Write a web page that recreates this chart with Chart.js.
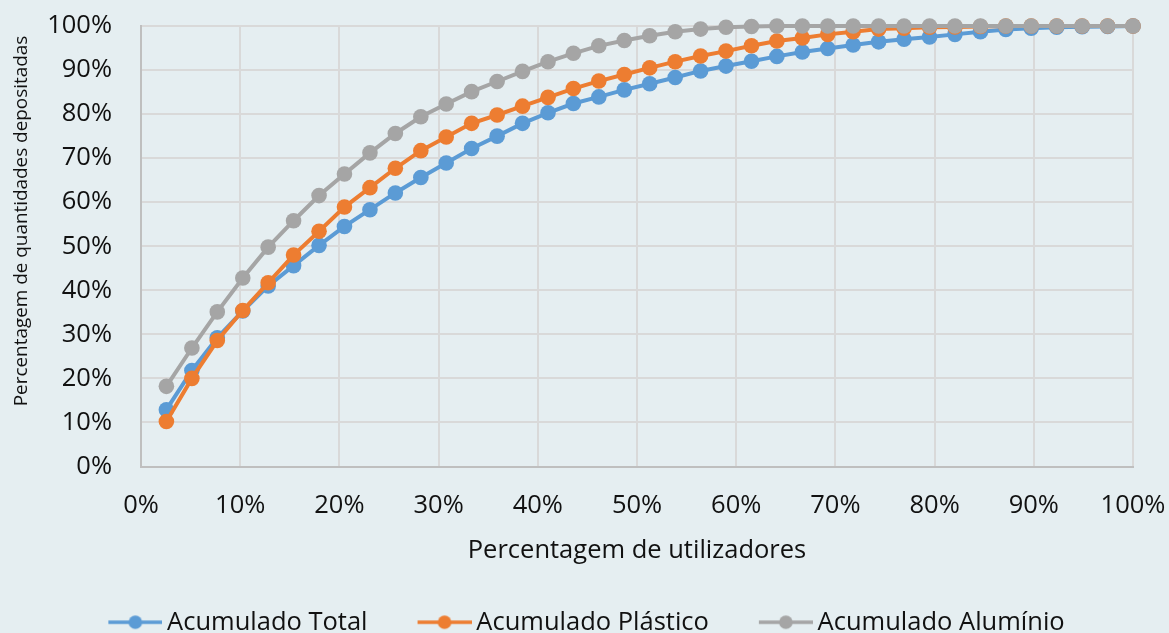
<!DOCTYPE html>
<html>
<head>
<meta charset="utf-8">
<script src="https://cdn.jsdelivr.net/npm/chart.js@4/dist/chart.umd.min.js"></script>
<style>
  html, body { margin: 0; padding: 0; background: #e5eef1; }
  #wrap { width: 1169px; height: 633px; }
  canvas { display: block; }
</style>
</head>
<body>
<div id="wrap"><canvas id="chart" width="1169" height="633"></canvas></div>
<script>
// Share of users (x, %) and cumulative share of deposited quantities (y, %)
const userShare = [2.56, 5.13, 7.69, 10.26, 12.82, 15.38, 17.95, 20.51, 23.08, 25.64,
  28.21, 30.77, 33.33, 35.90, 38.46, 41.03, 43.59, 46.15, 48.72, 51.28,
  53.85, 56.41, 58.97, 61.54, 64.10, 66.67, 69.23, 71.79, 74.36, 76.92,
  79.49, 82.05, 84.62, 87.18, 89.74, 92.31, 94.87, 97.44, 100];

const acumuladoTotal = [12.9, 21.8, 29.2, 35.3, 41.0, 45.6, 50.2, 54.5, 58.3, 62.1,
  65.6, 68.9, 72.2, 75.0, 77.9, 80.3, 82.4, 83.9, 85.5, 86.9,
  88.3, 89.8, 90.9, 92.0, 93.1, 94.1, 94.9, 95.7, 96.4, 97.0,
  97.5, 98.1, 98.7, 99.2, 99.5, 99.7, 99.85, 99.9, 100];

const acumuladoPlastico = [10.2, 20.0, 28.6, 35.4, 41.7, 48.0, 53.4, 58.9, 63.3, 67.7,
  71.7, 74.8, 77.9, 79.8, 81.8, 83.8, 85.8, 87.5, 89.0, 90.5,
  91.9, 93.2, 94.3, 95.5, 96.6, 97.3, 98.1, 98.7, 99.3, 99.5,
  99.7, 99.8, 99.9, 100, 100, 100, 100, 100, 100];

const acumuladoAluminio = [18.2, 26.9, 35.1, 42.8, 49.8, 55.8, 61.5, 66.4, 71.2, 75.6,
  79.4, 82.3, 85.1, 87.4, 89.7, 91.9, 93.8, 95.5, 96.7, 97.8,
  98.7, 99.3, 99.7, 99.9, 100, 100, 100, 100, 100, 100,
  100, 100, 100, 100, 100, 100, 100, 100, 100];

const seriesNames = ['Acumulado Total', 'Acumulado Plástico', 'Acumulado Alumínio'];
const seriesColors = ['#5b9bd5', '#ed7d31', '#a5a5a5'];
const axisTicks = [0, 10, 20, 30, 40, 50, 60, 70, 80, 90, 100];
const xTitle = 'Percentagem de utilizadores';
const yTitle = 'Percentagem de quantidades depositadas';

const FONT = '"Open Sans", "Noto Sans", sans-serif';
const FONT_SIZE = 25.5;
const TEXT = '#111111';

function toPoints(ys) {
  return ys.map((y, i) => ({ x: userShare[i], y: y }));
}

// Legend marker: a short line with a dot in its middle, sitting at the right of a wider transparent canvas
function legendMarker(color) {
  const w = 85, h = 16, visible = 54;
  const c = document.createElement('canvas');
  c.width = w; c.height = h;
  const g = c.getContext('2d');
  const x0 = w - visible;
  g.strokeStyle = color;
  g.lineWidth = 3.5;
  g.beginPath();
  g.moveTo(x0, h / 2);
  g.lineTo(w, h / 2);
  g.stroke();
  g.fillStyle = color;
  g.beginPath();
  g.arc(x0 + visible / 2, h / 2, 6.8, 0, Math.PI * 2);
  g.fill();
  return c;
}

function makeDataset(label, values, color, order) {
  return {
    label: label,
    data: toPoints(values),
    borderColor: color,
    backgroundColor: color,
    borderWidth: 4,
    pointRadius: 7.8,
    pointHoverRadius: 7.8,
    pointBorderWidth: 0,
    pointBackgroundColor: color,
    tension: 0,
    clip: false,
    order: order
  };
}

// Rotated y-axis title
const yTitlePlugin = {
  id: 'yTitle',
  afterDraw(chart) {
    const ctx = chart.ctx;
    ctx.save();
    ctx.translate(22, 221);
    ctx.rotate(-Math.PI / 2);
    ctx.font = '18.9px ' + FONT;
    ctx.fillStyle = TEXT;
    ctx.textAlign = 'center';
    ctx.textBaseline = 'middle';
    ctx.fillText(yTitle, 0, 0);
    ctx.restore();
  }
};

const bgPlugin = {
  id: 'bg',
  beforeDraw(chart) {
    const ctx = chart.ctx;
    ctx.save();
    ctx.fillStyle = '#e5eef1';
    ctx.fillRect(0, 0, chart.width, chart.height);
    ctx.restore();
  }
};

new Chart(document.getElementById('chart'), {
  type: 'line',
  data: {
    datasets: [
      makeDataset(seriesNames[0], acumuladoTotal, seriesColors[0], 2),
      makeDataset(seriesNames[1], acumuladoPlastico, seriesColors[1], 1),
      makeDataset(seriesNames[2], acumuladoAluminio, seriesColors[2], 0)
    ]
  },
  options: {
    responsive: false,
    animation: false,
    devicePixelRatio: 1,
    layout: { padding: { top: 8, right: 19, left: 0, bottom: -12 } },
    scales: {
      x: {
        type: 'linear',
        min: 0,
        max: 100,
        afterBuildTicks: s => { s.ticks = axisTicks.map(v => ({ value: v })); },
        afterFit: s => { s.height = 116; s.paddingLeft = 0; s.paddingRight = 36; },
        ticks: {
          padding: 24,
          color: TEXT,
          font: { family: FONT, size: FONT_SIZE },
          callback: v => v + '%',
          maxRotation: 0
        },
        grid: { color: '#d9d9d9', lineWidth: 2, drawTicks: false },
        border: { color: '#bfbfbf', width: 2 },
        title: {
          display: true,
          text: xTitle,
          color: TEXT,
          font: { family: FONT, size: FONT_SIZE },
          padding: { top: 0, bottom: 16 }
        }
      },
      y: {
        min: 0,
        max: 100,
        afterBuildTicks: s => { s.ticks = axisTicks.map(v => ({ value: v })); },
        afterFit: s => { s.width = 141; s.paddingTop = 26; s.paddingBottom = 0; },
        ticks: {
          padding: 29,
          color: TEXT,
          font: { family: FONT, size: FONT_SIZE },
          callback: v => v + '%'
        },
        grid: { color: '#d9d9d9', lineWidth: 2, drawTicks: false },
        border: { color: '#bfbfbf', width: 2 }
      }
    },
    plugins: {
      tooltip: { enabled: false },
      legend: {
        position: 'bottom',
        labels: {
          usePointStyle: true,
          pointStyleWidth: 69,
          boxHeight: FONT_SIZE,
          padding: 27,
          color: TEXT,
          font: { family: FONT, size: FONT_SIZE },
          generateLabels: chart => chart.data.datasets.map((ds, i) => ({
            text: ds.label,
            pointStyle: legendMarker(ds.borderColor),
            fillStyle: ds.borderColor,
            strokeStyle: ds.borderColor,
            lineWidth: 0,
            hidden: false,
            datasetIndex: i,
            fontColor: TEXT
          }))
        }
      }
    }
  },
  plugins: [bgPlugin, yTitlePlugin]
});
</script>
</body>
</html>
